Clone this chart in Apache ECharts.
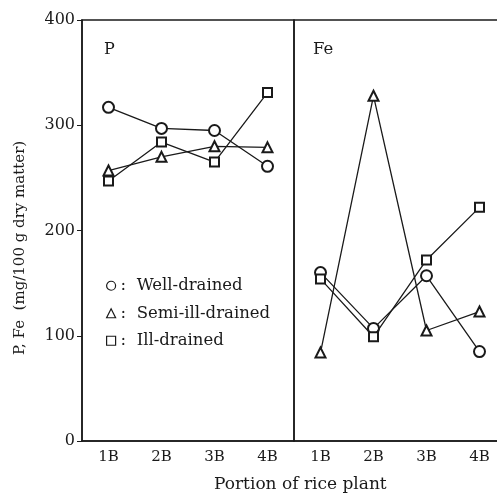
<!DOCTYPE html>
<html><head><meta charset="utf-8">
<script src="https://cdn.jsdelivr.net/npm/echarts@6/dist/echarts.min.js"></script>
<style>html,body{margin:0;padding:0;background:#fff;overflow:hidden}#c{width:512px;height:495px}</style>
</head><body><div id="c"></div>
<script>
const categories = ['1B','2B','3B','4B'];
const yTicks = [0,100,200,300,400];
const seriesNames = ['Well-drained','Semi-ill-drained','Ill-drained'];
const pWell = [317,297,295,261];
const pSemi = [257,270,280,279];
const pIll = [247,284,265,331];
const feWell = [160,107,157,85];
const feSemi = [84,328,105,123];
const feIll = [154,99,172,222];

const font = '"DejaVu Serif","Liberation Serif",serif';
const ink = '#1a1a1a';
const symbols = ['emptyCircle','emptyTriangle','emptyRect'];
const symSizes = [11,10,9];
const panelData = [[pWell,pSemi,pIll],[feWell,feSemi,feIll]];

const series = [];
panelData.forEach((arrs, g) => {
  arrs.forEach((arr, i) => {
    series.push({
      name: seriesNames[i], type: 'line', xAxisIndex: g, yAxisIndex: g,
      data: arr, symbol: symbols[i], symbolSize: symSizes[i],
      lineStyle: {color: ink, width: 1.3}, itemStyle: {color: ink, borderColor: ink, borderWidth: 1.2},
      emphasis: {disabled: true}, z: 3 + i
    });
  });
});

const xAxisBase = (g) => ({
  type: 'category', gridIndex: g, data: categories, boundaryGap: true,
  axisLine: {lineStyle: {color: ink, width: 1.5}},
  axisTick: {inside: true, alignWithLabel: true, length: 5, lineStyle: {color: ink}},
  axisLabel: {color: ink, fontFamily: font, fontSize: 15, margin: 9}
});

const chart = echarts.init(document.getElementById('c'), null, {renderer: 'canvas'});
chart.setOption({
  animation: false,
  backgroundColor: '#fff',
  title: [
    {text: 'P', left: 99, top: 37, textStyle: {fontFamily: font, fontSize: 16, fontWeight: 'normal', color: ink}},
    {text: 'Fe', left: 308, top: 36, textStyle: {fontFamily: font, fontSize: 16.5, fontWeight: 'normal', color: ink}}
  ],
  graphic: [
    {type: 'text', left: 214, top: 476, style: {text: 'Portion of rice plant', fill: ink, font: '17px ' + font}},
    {type: 'text', x: 13, y: 355, rotation: Math.PI / 2, style: {text: 'P, Fe  (mg/100 g dry matter)', fill: ink, font: '15px ' + font}}
  ],
  grid: [
    {left: 82, top: 20, width: 212, height: 421, show: true, borderColor: ink, borderWidth: 1.5},
    {left: 294, top: 20, width: 212, height: 421, show: true, borderColor: ink, borderWidth: 1.5}
  ],
  xAxis: [xAxisBase(0), xAxisBase(1)],
  yAxis: [
    {type: 'value', gridIndex: 0, min: yTicks[0], max: yTicks[yTicks.length-1], interval: 100,
     axisLine: {show: true, lineStyle: {color: ink, width: 1.5}},
     axisTick: {show: true, length: 5, lineStyle: {color: ink}},
     axisLabel: {color: ink, fontFamily: font, fontSize: 16, margin: 7},
     splitLine: {show: false}},
    {type: 'value', gridIndex: 1, min: 0, max: 400, interval: 100,
     axisLine: {show: false}, axisTick: {show: false}, axisLabel: {show: false}, splitLine: {show: false}}
  ],
  legend: {
    orient: 'vertical', left: 101, top: 272, itemWidth: 9, itemHeight: 9, itemGap: 10,
    selectedMode: false,
    textStyle: {fontFamily: font, fontSize: 16.5, color: ink, lineHeight: 17.5},
    formatter: (n) => ':  ' + n,
    data: [
      {name: seriesNames[0], icon: 'circle'},
      {name: seriesNames[1], icon: 'triangle'},
      {name: seriesNames[2], icon: 'rect'}
    ],
    itemStyle: {color: '#fff', borderColor: ink, borderWidth: 1.2},
    lineStyle: {width: 0, opacity: 0}
  },
  series: series
});
</script></body></html>
